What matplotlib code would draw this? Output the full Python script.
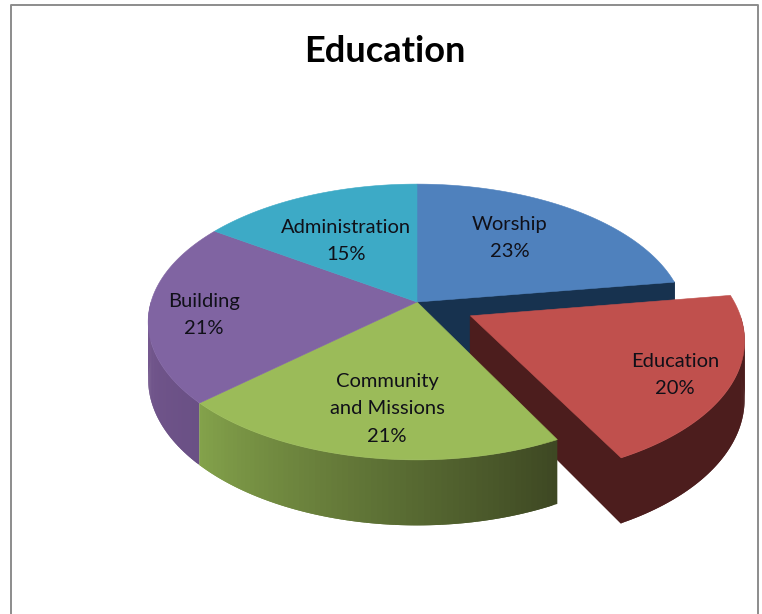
import numpy as np
import matplotlib
matplotlib.use("Agg")
import matplotlib.pyplot as plt
from matplotlib.patches import Polygon

title = "Education"
categories = ["Worship", "Education", "Community\nand Missions", "Building", "Administration"]
values = [22.6, 19.8, 20.8, 21.4, 15.4]
exploded = [0, 1, 0, 0, 0]
top_colors = ["#4f81bd", "#c0504d", "#9bbb59", "#8064a2", "#3daac6"]
wall_near = ["#17324f", "#4c1d1d", "#84a34b", "#75588f", "#2f8298"]
wall_far = ["#17324f", "#4c1d1d", "#3e4823", "#6a5085", "#2f8298"]
label_pos = [(510, 238), (675, 375), (387, 409), (204, 315), (346, 241)]

CX, CY, R, A, K, DEPTH, EXPLODE = 417, 302, 266, 135, 0.145, 56, 0.222

fig = plt.figure(figsize=(7.62, 6.14), dpi=100)
ax = fig.add_axes([0, 0, 1, 1])
ax.set_xlim(0, 762)
ax.set_ylim(614, 0)
ax.axis("off")


def proj(u, v, drop=0.0):
    s = 1 / (1 + K * v)
    return CX + R * u * s, CY - A * v * s + drop * s


def rim(t, off, drop=0.0):
    return proj(np.sin(t) + off[0], np.cos(t) + off[1], drop)


def hexrgb(c):
    return np.array(matplotlib.colors.to_rgb(c))


total = sum(values)
edges = np.radians(np.concatenate([[0], np.cumsum(values)]) / total * 360)
off = []
for i, e in enumerate(exploded):
    mid = (edges[i] + edges[i + 1]) / 2
    off.append((EXPLODE * e * np.sin(mid), EXPLODE * e * np.cos(mid)))


def cut_face(i, angle, z):
    o = off[i]
    p0, p1 = proj(o[0], o[1]), rim(angle, o)
    p2, p3 = rim(angle, o, DEPTH), proj(o[0], o[1], DEPTH)
    ax.add_patch(Polygon([p0, p1, p2, p3], fc=wall_far[i], ec=wall_far[i], lw=.8, zorder=z))


def draw_walls(i, z):
    a, b = edges[i], edges[i + 1]
    o = off[i]
    lo, hi = max(a, np.pi / 2), min(b, 3 * np.pi / 2)
    if hi <= lo:
        return
    ts = np.linspace(lo, hi, 70)
    near, far = hexrgb(wall_near[i]), hexrgb(wall_far[i])
    # bands overlap the next one so no seams show between them
    for j in range(len(ts) - 1):
        f = (ts[j] - lo) / (hi - lo)
        c = far + (near - far) * f
        t0, t1 = ts[j], ts[min(j + 2, len(ts) - 1)]
        ax.add_patch(Polygon([rim(t0, o), rim(t1, o), rim(t1, o, DEPTH), rim(t0, o, DEPTH)],
                             fc=c, ec="none", zorder=z + j * 1e-3))


def draw_top(i, z):
    o = off[i]
    ts = np.linspace(edges[i], edges[i + 1], 120)
    pts = [proj(o[0], o[1])] + [rim(t, o) for t in ts]
    ax.add_patch(Polygon(pts, fc=top_colors[i], ec=top_colors[i], lw=.4, zorder=z))


cut_face(0, edges[1], 1)
for i, e in enumerate(exploded):
    if e:
        cut_face(i, edges[i + 1], 7)
        draw_walls(i, 6)
        draw_top(i, 15)
    else:
        draw_walls(i, 10)
        draw_top(i, 12)

font = ["Lato", "Open Sans", "DejaVu Sans"]
for i, name in enumerate(categories):
    pct = f"{round(values[i] / total * 100)}%"
    ax.text(*label_pos[i], f"{name}\n{pct}", ha="center", va="center", fontsize=14.5,
            family=font, color="#101018", linespacing=1.78, zorder=20)

ax.text(385, 51, title, ha="center", va="center", fontsize=26, fontweight="bold",
        family=font, color="black", zorder=20)

# outer chart frame, cropped at the bottom
ax.plot([10.5, 10.5, 757.5, 757.5], [614, 5, 5, 614], color="#8c8c8c", lw=1.4, zorder=0)

fig.savefig("out.png", dpi=100, facecolor="white")
